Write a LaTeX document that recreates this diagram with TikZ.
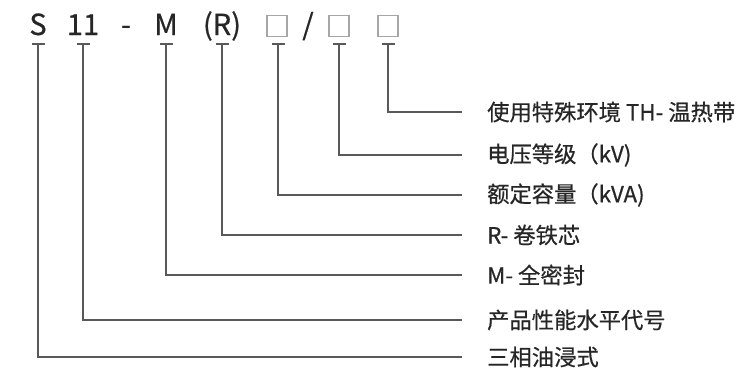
\documentclass[tikz,border=0pt]{standalone}
\usepackage{fontspec}
\setmainfont{Noto Sans CJK SC}[FakeBold=0.6]
\begin{document}
\begin{tikzpicture}[x=1pt,y=-1pt,
  code/.style={inner sep=0pt,anchor=base,font=\fontsize{29}{30}\selectfont,text=black!85},
  lab/.style={inner sep=0pt,anchor=west,font=\fontsize{22.3}{24}\selectfont,text=black!85},
  sqbox/.style={draw=black!35,line width=1.1pt,minimum width=20pt,minimum height=21pt,inner sep=0pt},
  conn/.style={draw=black!65,line width=1.4pt},
  tick/.style={draw=black!65,line width=1.4pt}]
\useasboundingbox (0,0) rectangle (746,372);
% top code
\node[code] (S) at (38,35) {S};
\node[code] (N11) at (83,35) {11};
\node[code] (dash) at (126,35) {-};
\node[code] (M) at (166,35) {M};
\node[code] (R) at (222,35) {(R)};
\node[sqbox] (B1) at (277,26) {};
\node[code] (sl) at (308,35) {/};
\node[sqbox] (B2) at (339,26) {};
\node[sqbox] (B3) at (388,26) {};
% labels
\node[lab] (L7) at (487,112) {使用特殊环境 TH- 温热带};
\node[lab] (L6) at (487,155) {电压等级（kV)};
\node[lab] (L5) at (487,195) {额定容量（kVA)};
\node[lab] (L4) at (487,235) {R- 卷铁芯};
\node[lab] (L3) at (487,275) {M- 全密封};
\node[lab] (L2) at (487,320) {产品性能水平代号};
\node[lab] (L1) at (487,357) {三相油浸式};
% tick coordinates
\foreach \n/\x in {S/38,N11/83,M/166,R/222,B1/278,B2/339,B3/388}{
  \coordinate (t\n) at (\x,44);
  \draw[tick] ([xshift=-6.5pt]t\n) -- ([xshift=6.5pt]t\n);
}
\foreach \n/\l in {S/L1,N11/L2,M/L3,R/L4,B1/L5,B2/L6,B3/L7}{
  \draw[conn] (t\n) |- ([xshift=-25pt]\l.west);
}
\end{tikzpicture}
\end{document}
